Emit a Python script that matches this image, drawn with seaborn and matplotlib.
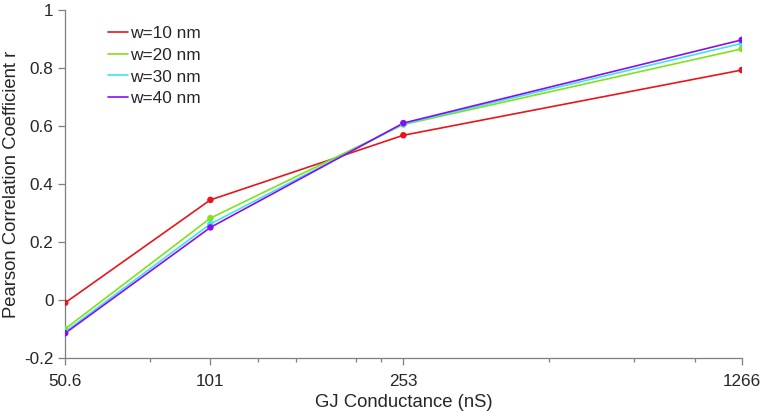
import matplotlib
matplotlib.use('Agg')
import matplotlib.pyplot as plt
import seaborn as sns
import pandas as pd

# GJ conductance (nS) and Pearson r for each width
conductance = [50.6, 101, 253, 1266]
widths = ['w=10 nm', 'w=20 nm', 'w=30 nm', 'w=40 nm']
r_w10 = [-0.01, 0.345, 0.568, 0.793]
r_w20 = [-0.10, 0.282, 0.605, 0.866]
r_w30 = [-0.11, 0.262, 0.607, 0.885]
r_w40 = [-0.115, 0.250, 0.610, 0.897]
minor_ticks = [75.9, 126.5, 151.8, 202.4, 227.7, 506, 759, 1012]
colors = ['#e8161b', '#80e21c', '#3fe3ee', '#8a0cf5']

rows = []
for w, vals in zip(widths, [r_w10, r_w20, r_w30, r_w40]):
    for x, y in zip(conductance, vals):
        rows.append({'GJ': x, 'r': y, 'width': w})
df = pd.DataFrame(rows)

sns.set_style('white')
plt.rcParams['font.family'] = ['Liberation Sans', 'DejaVu Sans']

fig = plt.figure(figsize=(7.67, 4.19), dpi=100)
ax = fig.add_axes([0.085, 0.146, 0.882, 0.83])

pal = dict(zip(widths, colors))
sns.lineplot(data=df, x='GJ', y='r', hue='width', palette=pal, linewidth=1.2, ax=ax)
sns.scatterplot(data=df, x='GJ', y='r', hue='width', palette=pal, s=22,
                edgecolor='none', legend=False, ax=ax, zorder=3)

ax.set_xscale('log')
ax.set_xlim(50.6, 1266)
ax.set_ylim(-0.2, 1)
ax.set_xticks(conductance)
ax.set_xticklabels(['50.6', '101', '253', '1266'])
ax.set_xticks(minor_ticks, minor=True)
ax.set_xticklabels([], minor=True)
ax.set_yticks([-0.2, 0, 0.2, 0.4, 0.6, 0.8, 1])
ax.set_yticklabels(['-0.2', '0', '0.2', '0.4', '0.6', '0.8', '1'])

for s in ['top', 'right']:
    ax.spines[s].set_visible(False)
for s in ['left', 'bottom']:
    ax.spines[s].set_color('#7f7f7f')
    ax.spines[s].set_linewidth(0.9)
ax.tick_params(which='major', direction='out', length=5, width=0.9, color='#7f7f7f',
               labelsize=12.3, labelcolor='#262626', left=True, bottom=True)
ax.tick_params(axis='x', which='major', pad=7)
ax.tick_params(which='minor', direction='out', length=3, width=0.9, color='#7f7f7f',
               bottom=True)

ax.set_xlabel('GJ Conductance (nS)', fontsize=13.3, color='#262626', labelpad=3)
ax.set_ylabel('Pearson Correlation Coefficient r', fontsize=13.3, color='#262626', labelpad=3)

leg = ax.legend(loc='upper left', bbox_to_anchor=(0.04, 1.0), frameon=False,
                fontsize=12.4, handlelength=1.2, handletextpad=0.1, labelspacing=0.4)
for t in leg.get_texts():
    t.set_color('#262626')

fig.savefig('out.png', dpi=100)
